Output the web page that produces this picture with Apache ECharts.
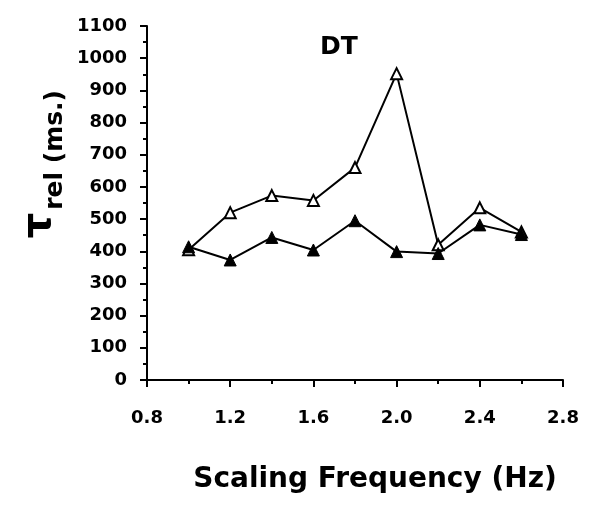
<!DOCTYPE html>
<html><head><meta charset="utf-8">
<script src="https://cdn.jsdelivr.net/npm/echarts@6/dist/echarts.min.js"></script>
<style>html,body{margin:0;padding:0;background:#fff}#c{width:608px;height:513px}</style>
</head><body><div id="c"></div>
<script>
const freqs = [1.0, 1.2, 1.4, 1.6, 1.8, 2.0, 2.2, 2.4, 2.6];
const openSeries = [405, 520, 573, 558, 660, 952, 420, 535, 460];
const filledSeries = [414, 373, 443, 404, 495, 399, 393, 482, 452];
const title = 'DT';
const xName = 'Scaling Frequency (Hz)';

const chart = echarts.init(document.getElementById('c'));
const font = '"DejaVu Sans", sans-serif';
chart.setOption({
  animation: false,
  title: { text: title, left: 334, top: 30, textAlign: 'center',
    textStyle: { fontFamily: font, fontWeight: 'bold', fontSize: 25, color: '#000' } },
  grid: { left: 147, right: 45, top: 26, bottom: 133 },
  xAxis: {
    type: 'value', min: 0.8, max: 2.8, interval: 0.4,
    name: xName, nameLocation: 'middle', nameGap: 86,
    nameTextStyle: { fontFamily: font, fontWeight: 'bold', fontSize: 28, color: '#000', padding: [0, 0, 0, 40] },
    axisLine: { lineStyle: { color: '#000', width: 2 } },
    axisTick: { show: true, length: 7, lineStyle: { color: '#000', width: 2 } },
    minorTick: { show: true, splitNumber: 2, length: 4, lineStyle: { color: '#000', width: 2 } },
    splitLine: { show: false },
    axisLabel: { margin: 29, fontFamily: font, fontWeight: 'bold', fontSize: 18, color: '#000',
      formatter: v => v.toFixed(1) }
  },
  yAxis: {
    type: 'value', min: 0, max: 1100, interval: 100,
    axisLine: { show: true, lineStyle: { color: '#000', width: 2 } },
    axisTick: { show: true, length: 7, lineStyle: { color: '#000', width: 2 } },
    minorTick: { show: true, splitNumber: 2, length: 4, lineStyle: { color: '#000', width: 2 } },
    splitLine: { show: false },
    axisLabel: { margin: 20, fontFamily: font, fontWeight: 'bold', fontSize: 18, color: '#000',
      formatter: v => String(v) }
  },
  graphic: [{
    type: 'text', left: 20, top: 90, rotation: Math.PI / 2,
    style: {
      text: '{t|τ}{s|rel}{u| (ms.)}',
      rich: {
        t: { fontFamily: font, fontWeight: 'bold', fontSize: 40, fill: '#000', verticalAlign: 'bottom', padding: [0, 0, 8, 0] },
        s: { fontFamily: font, fontWeight: 'bold', fontSize: 25, fill: '#000', verticalAlign: 'bottom', padding: [0, 0, 0, 3] },
        u: { fontFamily: font, fontWeight: 'bold', fontSize: 25, fill: '#000', verticalAlign: 'bottom' }
      }
    }
  }],
  series: [
    { type: 'line', data: freqs.map((f, i) => [f, openSeries[i]]),
      symbol: 'triangle', symbolSize: 11, lineStyle: { color: '#000', width: 2 },
      itemStyle: { color: '#fff', borderColor: '#000', borderWidth: 2 } },
    { type: 'line', data: freqs.map((f, i) => [f, filledSeries[i]]),
      symbol: 'triangle', symbolSize: 12, lineStyle: { color: '#000', width: 2 },
      itemStyle: { color: '#000', borderColor: '#000', borderWidth: 1 } }
  ]
});
</script></body></html>
